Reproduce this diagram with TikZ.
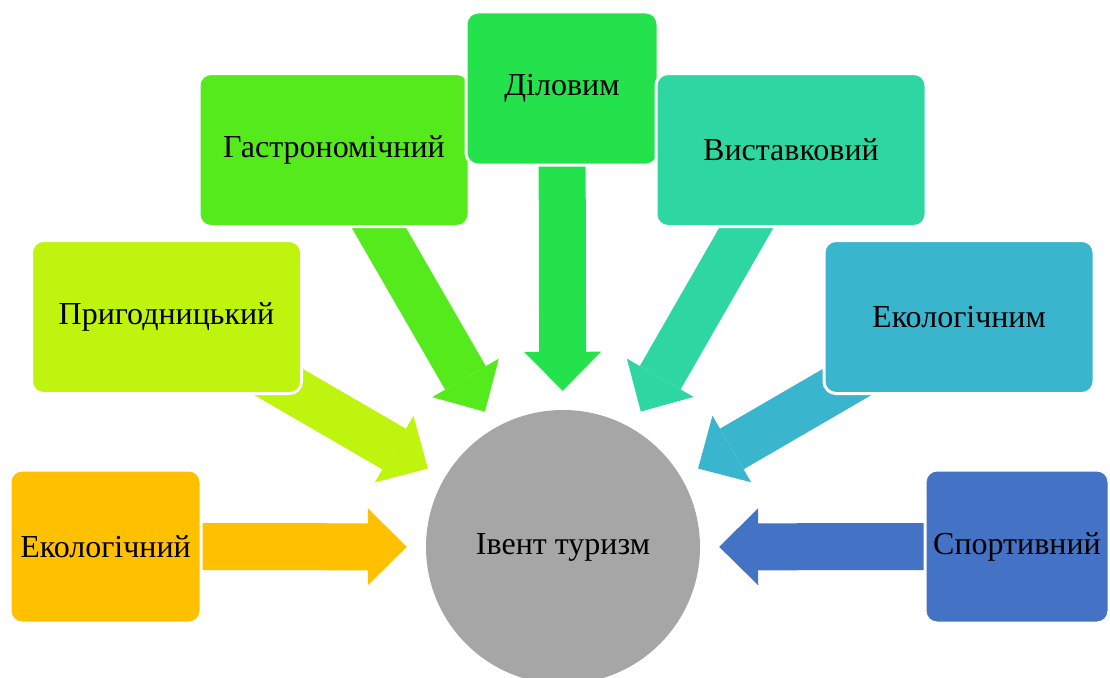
\documentclass[tikz,border=0pt]{standalone}
\usepackage{fontspec}
\setmainfont{Liberation Serif}
\usetikzlibrary{arrows.meta,backgrounds}

\definecolor{ekoOrange}{RGB}{255,192,0}
\definecolor{pryhLime}{RGB}{190,244,14}
\definecolor{gastroGreen}{RGB}{84,234,28}
\definecolor{dilGreen}{RGB}{35,226,75}
\definecolor{vystTeal}{RGB}{46,214,161}
\definecolor{ekoCyan}{RGB}{58,181,206}
\definecolor{sportBlue}{RGB}{68,114,196}
\definecolor{eventGray}{RGB}{166,166,166}

\begin{document}
\begin{tikzpicture}[x=1pt,y=-1pt,
    box/.style={rounded corners=12pt, draw=white, line width=3pt, inner sep=0pt,
      minimum width=270pt, minimum height=153pt, font=\fontsize{32}{38}\selectfont},
    flow/.style={line width=47pt, shorten >=19pt,
      -{Triangle[width=77pt,length=39pt,line width=0pt]}}]
    \useasboundingbox (0,0) rectangle (1110,677);

    % Centre
    \node[circle, fill=eventGray, minimum size=274pt, inner sep=0pt,
      font=\fontsize{32}{38}\selectfont] (event) at (563,547) {Івент туризм};

    % Boxes
    \node[box, fill=ekoOrange, minimum width=191pt] (ekol) at (105.5,546.5) {Екологічний};
    \node[box, fill=pryhLime] (pryh) at (166.5,317) {Пригодницький};
    \node[box, fill=gastroGreen] (gastro) at (334,150) {Гастрономічний};
    \node[box, fill=dilGreen, minimum width=192pt] (dil) at (562,88.5) {Діловим};
    \node[box, fill=vystTeal] (vyst) at (791,150) {Виставковий};
    \node[box, fill=ekoCyan] (ekolm) at (959,317) {Екологічним};
    \node[box, fill=sportBlue, minimum width=184pt] (sport) at (1017,546.5) {Спортивний};

    % Arrows
    \begin{scope}[on background layer]
        \draw[flow, draw=ekoOrange] (ekol.center) -- (event);
        \draw[flow, draw=pryhLime] (pryh.center) -- (event);
        \draw[flow, draw=gastroGreen] (gastro.center) -- (event);
        \draw[flow, draw=dilGreen] (dil.center) -- (event);
        \draw[flow, draw=vystTeal] (vyst.center) -- (event);
        \draw[flow, draw=ekoCyan] (ekolm.center) -- (event);
        \draw[flow, draw=sportBlue] (sport.center) -- (event);
    \end{scope}
\end{tikzpicture}
\end{document}
